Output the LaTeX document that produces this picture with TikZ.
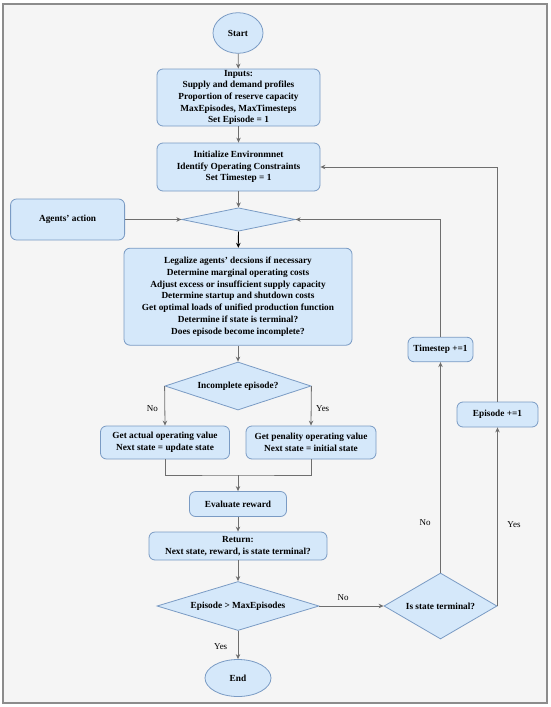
\documentclass[tikz,border=0pt]{standalone}
\usepackage{fontspec}
\setmainfont{Liberation Serif}
\usetikzlibrary{shapes.geometric,arrows.meta}
\definecolor{boxfill}{RGB}{213,232,250}
\definecolor{boxline}{RGB}{122,155,196}
\definecolor{bgc}{RGB}{245,245,245}
\definecolor{framec}{RGB}{140,140,140}
\definecolor{connc}{RGB}{110,110,110}
\begin{document}
\begin{tikzpicture}[x=1pt,y=-1pt,
  every node/.style={font=\fontsize{9.3}{11.7}\selectfont\bfseries},
  procbox/.style={draw=boxline, fill=boxfill, rounded corners=6pt, align=center, inner sep=0pt, line width=0.8pt},
  terminal/.style={draw=boxline, fill=boxfill, ellipse, inner sep=0pt, line width=0.8pt},
  decision/.style={draw=boxline, fill=boxfill, diamond, inner sep=0pt, line width=0.8pt},
  lbl/.style={font=\fontsize{9}{11}\selectfont, inner sep=0pt},
  conn/.style={draw=connc, line width=0.8pt, -{Stealth[length=5pt,width=4.5pt]}},
  connk/.style={draw=black, line width=0.8pt, -{Stealth[length=5pt,width=4.5pt]}},
  plain/.style={draw=connc, line width=0.8pt}]
\useasboundingbox (0,0) rectangle (550,707);
\draw[draw=framec, fill=bgc, line width=1.2pt] (3,4) rectangle (547,703);

\node[terminal, minimum width=50pt, minimum height=40.6pt] (start) at (238,33) {Start};
\node[procbox, minimum width=163pt, minimum height=57pt] (inputs) at (238.5,97.5)
  {Inputs:\\Supply and demand profiles\\Proportion of reserve capacity\\MaxEpisodes, MaxTimesteps\\Set Episode = 1};
\node[procbox, minimum width=163pt, minimum height=48pt] (init) at (238.5,167)
  {Initialize Environmnet\\Identify Operating Constraints\\Set Timestep = 1};
\node[procbox, minimum width=114pt, minimum height=41pt] (agents) at (67.6,219.5) {Agents' action};
\node[decision, minimum width=113.4pt, minimum height=23.4pt, aspect=4.85] (d1) at (238.5,219.5) {};
\node[procbox, minimum width=228pt, minimum height=97pt] (big) at (238,296.7)
  {Legalize agents' decsions if necessary\\Determine marginal operating costs\\Adjust excess or insufficient supply capacity\\Determine startup and shutdown costs\\Get optimal loads of unified production function\\Determine if state is terminal?\\Does episode become incomplete?};
\node[decision, minimum width=146pt, minimum height=48pt, aspect=3] (inc) at (238,386) {Incomplete episode?};
\node[procbox, minimum width=129pt, minimum height=33pt] (actual) at (165,442.5)
  {Get actual operating value\\Next state = update state};
\node[procbox, minimum width=130pt, minimum height=33pt] (penal) at (311,442.5)
  {Get penality operating value\\Next state = initial state};
\coordinate (mg) at (238,475);
\node[procbox, minimum width=97pt, minimum height=25pt] (eval) at (238,504) {Evaluate reward};
\node[procbox, minimum width=178pt, minimum height=28pt] (ret) at (238,546)
  {Return:\\Next state, reward, is state terminal?};
\node[decision, minimum width=162pt, minimum height=49pt, aspect=3.3] (epd) at (238,606) {Episode > MaxEpisodes};
\node[terminal, minimum width=66pt, minimum height=37pt] (end) at (238,678) {End};
\node[decision, minimum width=113pt, minimum height=66pt, aspect=1.7] (term) at (440.5,606) {Is state terminal?};
\node[procbox, minimum width=65pt, minimum height=24.5pt] (tstep) at (440.5,349.5) {Timestep +=1};
\node[procbox, minimum width=81pt, minimum height=25pt] (einc) at (497.5,414.5) {Episode +=1};

\draw[conn] (start) -- (inputs);
\draw[conn] (inputs) -- (init);
\draw[conn] (init) -- (d1);
\draw[conn] (agents) -- (d1);
\draw[connk] (d1) -- (big);
\draw[conn] (big) -- (inc);
\draw[conn] (inc.west) -- (actual.north);
\draw[conn] (inc.east) -- (penal.north);
\draw[plain] (actual.south) |- (mg) -| (penal.south);
\draw[conn] (mg) -- (eval);
\draw[conn] (eval) -- (ret);
\draw[conn] (ret) -- (epd);
\draw[conn] (epd) -- (term);
\draw[conn] (epd) -- (end);
\draw[conn] (term.north) -- (tstep.south);
\draw[conn] (tstep.north) |- (d1.east);
\draw[conn] (term.east) -- (einc.south);
\draw[conn] (einc.north) |- (init.east);

\node[lbl] (lno1) at (152.3,408.3) {No};
\node[lbl] (lyes1) at (322.7,408.3) {Yes};
\node[lbl] (lno2) at (343,598) {No};
\node[lbl] (lyes2) at (220.7,646.7) {Yes};
\node[lbl] (lno3) at (425,523) {No};
\node[lbl] (lyes3) at (514,524.3) {Yes};
\end{tikzpicture}
\end{document}
